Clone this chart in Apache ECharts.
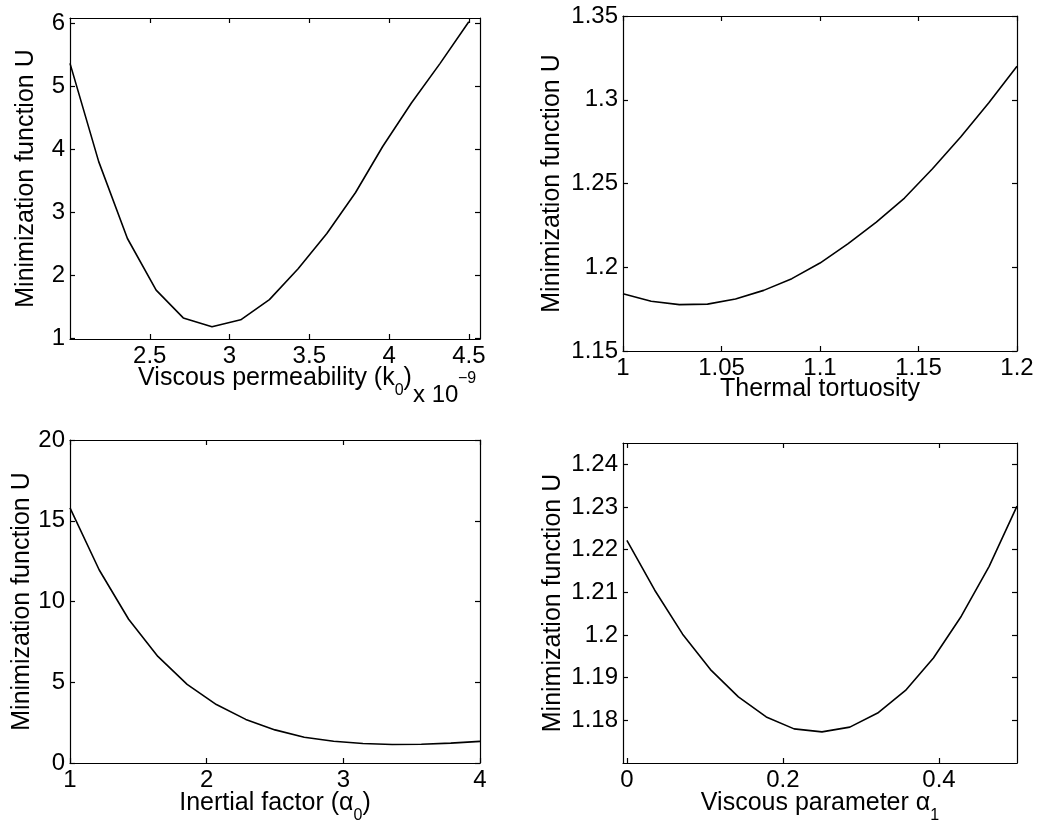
<!DOCTYPE html>
<html><head><meta charset="utf-8">
<script src="https://cdn.jsdelivr.net/npm/echarts@6/dist/echarts.min.js"></script>
<style>html,body{margin:0;padding:0;background:#fff}#c{width:1040px;height:829px}</style>
</head><body><div id="c"></div>
<script>
// ---- data ----
const x1 = [2.00, 2.18, 2.36, 2.54, 2.71, 2.89, 3.07, 3.25, 3.43, 3.61, 3.79, 3.96, 4.14, 4.32, 4.50];
const u1 = [5.36, 3.80, 2.58, 1.76, 1.32, 1.18, 1.29, 1.61, 2.10, 2.66, 3.31, 4.04, 4.73, 5.36, 6.02];

const x2 = [1.0, 1.0143, 1.0286, 1.0429, 1.0571, 1.0714, 1.0857, 1.1, 1.1143, 1.1286, 1.1429, 1.1571, 1.1714, 1.1857, 1.2];
const u2 = [1.1842, 1.1797, 1.1777, 1.1780, 1.1810, 1.1862, 1.1932, 1.2025, 1.2141, 1.2270, 1.2413, 1.2588, 1.2778, 1.2982, 1.3200];

const x3 = [1.0, 1.214, 1.429, 1.643, 1.857, 2.071, 2.286, 2.5, 2.714, 2.929, 3.143, 3.357, 3.571, 3.786, 4.0];
const u3 = [15.8, 11.95, 8.9, 6.6, 4.87, 3.62, 2.7, 2.05, 1.59, 1.35, 1.21, 1.15, 1.16, 1.23, 1.34];

const x4 = [0, 0.0357, 0.0714, 0.1071, 0.1429, 0.1786, 0.2143, 0.25, 0.2857, 0.3214, 0.3571, 0.3929, 0.4286, 0.4643, 0.5];
const u4 = [1.2222, 1.2105, 1.2002, 1.1919, 1.1855, 1.1808, 1.1780, 1.1773, 1.1784, 1.1817, 1.1870, 1.1946, 1.2044, 1.2161, 1.2302];

// ---- tick labels ----
const xt1 = [2.5, 3, 3.5, 4, 4.5];
const yt1 = [1, 2, 3, 4, 5, 6];
const xt2 = [1, 1.05, 1.1, 1.15, 1.2];
const yt2 = [1.15, 1.2, 1.25, 1.3, 1.35];
const xt3 = [1, 2, 3, 4];
const yt3 = [0, 5, 10, 15, 20];
const xt4 = [0, 0.2, 0.4];
const yt4 = [1.18, 1.19, 1.2, 1.21, 1.22, 1.23, 1.24];

const xNames = ['{m|Viscous permeability (k}{s|0}{m|)}', 'Thermal tortuosity', '{m|Inertial factor (α}{s|0}{m|)}', '{m|Viscous parameter α}{s|1}'];
const yName = 'Minimization function U';
const expBase = 'x 10';
const expPow = '−9';

// ---- layout / style ----
const FONT = '"Liberation Sans", Arial, Helvetica, sans-serif';
const NAME_SIZE = 25;
const grids = [
  {left: 70, top: 18, width: 410, height: 321},
  {left: 623, top: 16, width: 394, height: 335},
  {left: 70, top: 440, width: 410, height: 323},
  {left: 623, top: 443, width: 394, height: 320}
];
const ranges = [
  {x: [2.0, 4.57], y: [0.985, 6.08]},
  {x: [1.0, 1.2], y: [1.15, 1.35]},
  {x: [1.0, 4.0], y: [0, 20]},
  {x: [-0.005, 0.5], y: [1.17, 1.245]}
];
const ticks = [[xt1, yt1], [xt2, yt2], [xt3, yt3], [xt4, yt4]];
const yNameGaps = [31, 58, 35, 57];
const xNameGaps = [27, 26, 28, 28];
const data = [[x1, u1], [x2, u2], [x3, u3], [x4, u4]];

const lineStyle = {color: '#000', width: 1.2};
const rich = {
  m: {fontSize: NAME_SIZE, fontFamily: FONT, color: '#000', lineHeight: 25, verticalAlign: 'top'},
  s: {fontSize: 16, fontFamily: FONT, color: '#000', lineHeight: 16, padding: [17, 0, 0, 0], verticalAlign: 'top'}
};

const xAxis = [], yAxis = [], series = [];
for (let i = 0; i < 4; i++) {
  const [xt, yt] = ticks[i];
  const r = ranges[i];
  xAxis.push({
    type: 'value', gridIndex: i, position: 'bottom', min: r.x[0], max: r.x[1],
    name: xNames[i], nameLocation: 'middle', nameGap: xNameGaps[i], nameMoveOverlap: false,
    nameTextStyle: {fontSize: NAME_SIZE, fontFamily: FONT, color: '#000', lineHeight: 25, rich: rich},
    axisLine: {show: true, onZero: false, lineStyle: lineStyle},
    axisTick: {show: true, inside: true, length: 5, customValues: xt, lineStyle: lineStyle},
    axisLabel: {show: true, margin: 5, customValues: xt, fontSize: 24, fontFamily: FONT, color: '#000'},
    splitLine: {show: false}
  });
  xAxis.push({
    type: 'value', gridIndex: i, position: 'top', min: r.x[0], max: r.x[1],
    axisLine: {show: true, onZero: false, lineStyle: lineStyle},
    axisTick: {show: true, inside: true, length: 5, customValues: xt, lineStyle: lineStyle},
    axisLabel: {show: false},
    splitLine: {show: false}
  });
  yAxis.push({
    type: 'value', gridIndex: i, position: 'left', min: r.y[0], max: r.y[1],
    name: yName, nameLocation: 'middle', nameGap: yNameGaps[i], nameMoveOverlap: false,
    nameTextStyle: {fontSize: NAME_SIZE, fontFamily: FONT, color: '#000', lineHeight: 25},
    axisLine: {show: true, onZero: false, lineStyle: lineStyle},
    axisTick: {show: true, inside: true, length: 5, customValues: yt, lineStyle: lineStyle},
    axisLabel: {show: true, margin: 5, customValues: yt, fontSize: 24, fontFamily: FONT, color: '#000'},
    splitLine: {show: false}
  });
  yAxis.push({
    type: 'value', gridIndex: i, position: 'right', min: r.y[0], max: r.y[1],
    axisLine: {show: true, onZero: false, lineStyle: lineStyle},
    axisTick: {show: true, inside: true, length: 5, customValues: yt, lineStyle: lineStyle},
    axisLabel: {show: false},
    splitLine: {show: false}
  });
  const [xs, us] = data[i];
  series.push({
    type: 'line', xAxisIndex: 2 * i, yAxisIndex: 2 * i,
    data: xs.map((x, k) => [x, us[k]]),
    showSymbol: false, symbol: 'none', smooth: false, clip: true,
    lineStyle: {color: '#000', width: 1.6}, silent: true, animation: false
  });
}

const chart = echarts.init(document.getElementById('c'), null, {renderer: 'canvas'});
chart.setOption({
  backgroundColor: '#fff',
  animation: false,
  grid: grids.map(g => Object.assign({containLabel: false, outerBoundsMode: 'none'}, g)),
  xAxis: xAxis,
  yAxis: yAxis,
  series: series,
  graphic: [
    {type: 'text', x: 413, y: 395, silent: true,
     style: {text: expBase, fontSize: 24, fontFamily: FONT, fill: '#000', align: 'left', verticalAlign: 'middle'}},
    {type: 'text', x: 458, y: 379, silent: true,
     style: {text: expPow, fontSize: 16, fontFamily: FONT, fill: '#000', align: 'left', verticalAlign: 'middle'}}
  ]
});
</script>
</body></html>
